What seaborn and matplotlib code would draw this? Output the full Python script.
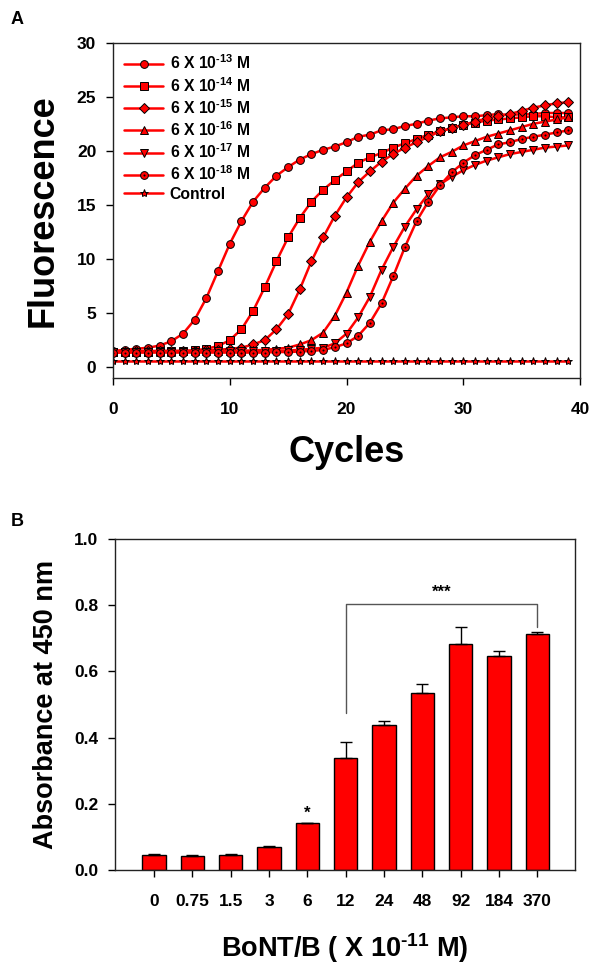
import matplotlib
matplotlib.use("Agg")
import matplotlib.pyplot as plt
from matplotlib.path import Path
import pandas as pd
import seaborn as sns

# ---- panel A: real-time fluorescence, one value per cycle ----
cycles = list(range(40))
s13 = [1.5, 1.6, 1.7, 1.8, 2.0, 2.4, 3.1, 4.4, 6.4, 8.9,
       11.4, 13.5, 15.3, 16.6, 17.7, 18.5, 19.2, 19.7, 20.1, 20.4,
       20.8, 21.3, 21.5, 21.9, 22.0, 22.3, 22.5, 22.8, 23.0, 23.1,
       23.2, 23.2, 23.3, 23.4, 23.3, 23.4, 23.4, 23.5, 23.5, 23.5]
s14 = [1.4, 1.4, 1.45, 1.45, 1.5, 1.5, 1.5, 1.55, 1.7, 1.95,
       2.5, 3.5, 5.2, 7.4, 9.8, 12.0, 13.8, 15.3, 16.4, 17.3,
       18.1, 18.9, 19.4, 19.8, 20.3, 20.7, 21.1, 21.5, 21.8, 22.1,
       22.4, 22.6, 22.8, 22.9, 23.0, 23.1, 23.2, 23.2, 23.1, 23.1]
s15 = [1.45, 1.45, 1.5, 1.5, 1.5, 1.5, 1.5, 1.5, 1.55, 1.6,
       1.7, 1.8, 2.1, 2.5, 3.5, 4.9, 7.2, 9.8, 12.0, 14.0,
       15.7, 17.1, 18.1, 19.0, 19.7, 20.3, 20.8, 21.3, 21.8, 22.1,
       22.4, 22.7, 23.0, 23.2, 23.4, 23.7, 24.0, 24.2, 24.4, 24.5]
s16 = [1.4, 1.4, 1.45, 1.45, 1.45, 1.45, 1.5, 1.5, 1.5, 1.5,
       1.5, 1.5, 1.55, 1.6, 1.7, 1.8, 2.1, 2.5, 3.2, 4.75,
       6.9, 9.4, 11.6, 13.5, 15.2, 16.5, 17.7, 18.6, 19.4, 19.9,
       20.5, 20.9, 21.3, 21.6, 21.9, 22.2, 22.5, 22.7, 22.9, 23.1]
s17 = [1.4, 1.4, 1.4, 1.4, 1.45, 1.45, 1.45, 1.45, 1.45, 1.5,
       1.5, 1.5, 1.5, 1.5, 1.5, 1.55, 1.6, 1.7, 1.8, 2.2,
       3.1, 4.6, 6.5, 9.0, 11.1, 13.0, 14.6, 16.0, 16.9, 17.6,
       18.2, 18.7, 19.1, 19.4, 19.7, 19.9, 20.1, 20.3, 20.4, 20.5]
s18 = [1.35, 1.35, 1.35, 1.35, 1.35, 1.35, 1.35, 1.35, 1.35, 1.35,
       1.35, 1.35, 1.35, 1.35, 1.4, 1.4, 1.45, 1.5, 1.6, 1.85,
       2.2, 2.9, 4.1, 5.9, 8.4, 11.1, 13.5, 15.3, 16.8, 18.0,
       18.9, 19.6, 20.1, 20.6, 20.8, 21.1, 21.3, 21.5, 21.7, 21.9]
control = [0.6, 0.6, 0.6, 0.6, 0.6, 0.6, 0.6, 0.6, 0.6, 0.6,
           0.6, 0.6, 0.6, 0.6, 0.6, 0.6, 0.6, 0.6, 0.6, 0.6,
           0.6, 0.6, 0.6, 0.6, 0.6, 0.6, 0.6, 0.6, 0.6, 0.6,
           0.6, 0.6, 0.6, 0.6, 0.6, 0.6, 0.6, 0.6, 0.6, 0.6]
series_labels = [r"6 X 10$^{\text{-13}}$ M", r"6 X 10$^{\text{-14}}$ M",
                 r"6 X 10$^{\text{-15}}$ M", r"6 X 10$^{\text{-16}}$ M",
                 r"6 X 10$^{\text{-17}}$ M", r"6 X 10$^{\text{-18}}$ M",
                 "Control"]

# ---- panel B: ELISA absorbance ----
doses = ["0", "0.75", "1.5", "3", "6", "12", "24", "48", "92", "184", "370"]
absorb = [0.046, 0.043, 0.045, 0.069, 0.141, 0.337, 0.439, 0.536, 0.682, 0.647, 0.712]
absorb_err = [0.002, 0.002, 0.002, 0.003, 0.002, 0.050, 0.011, 0.026, 0.053, 0.016, 0.008]

sns.set_style("ticks")
plt.rcParams['font.family'] = ['Liberation Sans', 'DejaVu Sans']
plt.rcParams['font.weight'] = 'bold'
plt.rcParams['mathtext.fontset'] = 'custom'
plt.rcParams['mathtext.rm'] = 'Liberation Sans:bold'
plt.rcParams['mathtext.bf'] = 'Liberation Sans:bold'
plt.rcParams['mathtext.default'] = 'bf'
for key in ['text.color', 'axes.labelcolor', 'xtick.color', 'ytick.color']:
    plt.rcParams[key] = 'black'

W, H = 590, 964
fig = plt.figure(figsize=(W / 100, H / 100), dpi=100)

# circle with a dot in the middle for the last dilution
dotted = Path.make_compound_path(Path.unit_circle(), Path.circle((0, 0), 0.14))
markers = ["o", "s", "D", "^", "v", dotted, "*"]
msizes = [5.6, 5.4, 5.0, 5.8, 5.8, 5.6, 6.0]

ax = fig.add_axes([113 / W, 1 - 378 / H, 467 / W, 335.3 / H])
for vals, lab, mk, ms in zip([s13, s14, s15, s16, s17, s18, control],
                             series_labels, markers, msizes):
    sns.lineplot(x=cycles, y=vals, ax=ax, color="red", lw=1.8, marker=mk,
                 markersize=ms, markerfacecolor="red", markeredgecolor="black",
                 markeredgewidth=0.7, label=lab)
ax.set_xlim(0, 40)
ax.set_ylim(-1, 30)
ax.set_xticks([0, 10, 20, 30, 40])
ax.set_yticks([0, 5, 10, 15, 20, 25, 30])
ax.tick_params(labelsize=12.5, length=5, width=1, pad=7)
ax.tick_params(axis="x", pad=12)
for sp in ax.spines.values():
    sp.set_visible(True)
    sp.set_linewidth(1)
    sp.set_color("#222222")
ax.set_xlabel("Cycles", fontsize=26, fontweight="bold", va="baseline")
ax.xaxis.set_label_coords(0.5, -(462 - 378) / 335.3)
ax.set_ylabel("Fluorescence", fontsize=26, fontweight="bold", va="baseline")
ax.yaxis.set_label_coords(-(113 - 53) / 467, 0.5)
leg = ax.legend(loc="upper left", frameon=False, fontsize=11.3, handlelength=2.5,
                handletextpad=0.4, labelspacing=0.22, borderaxespad=0.3,
                bbox_to_anchor=(0.0, 1.0))

# ---- panel B ----
ax2 = fig.add_axes([115 / W, 1 - 870 / H, 460 / W, 331 / H])
sns.barplot(x=doses, y=absorb, order=doses, ax=ax2, color="red", saturation=1,
            edgecolor="black", linewidth=1, width=0.61, errorbar=None)
ax2.errorbar(range(len(doses)), absorb, yerr=[[0] * len(doses), absorb_err],
             fmt="none", ecolor="black", elinewidth=1, capsize=4, capthick=1, zorder=3)
ax2.set_xlim(-1.02, 10.98)
ax2.set_ylim(0, 1.0)
ax2.set_yticks([0, 0.2, 0.4, 0.6, 0.8, 1.0])
ax2.set_yticklabels(["0.0", "0.2", "0.4", "0.6", "0.8", "1.0"])
ax2.tick_params(labelsize=12.5, length=5, width=1, pad=7)
ax2.tick_params(axis="x", pad=12)
for sp in ax2.spines.values():
    sp.set_visible(True)
    sp.set_linewidth(1)
    sp.set_color("#222222")
ax2.set_xlabel(r"BoNT/B ( X 10$^{\text{-11}}$ M)", fontsize=19.5, fontweight="bold",
               va="baseline")
ax2.xaxis.set_label_coords(0.5, -(957 - 870) / 331)
ax2.set_ylabel("Absorbance at 450 nm", fontsize=19.5, fontweight="bold", va="baseline")
ax2.yaxis.set_label_coords(-(115 - 53) / 460, 0.5)

# significance marks
ax2.plot([5, 5, 10, 10], [0.474, 0.804, 0.804, 0.735], color="#555555", lw=1)
ax2.text(7.5, 0.815, "***", ha="center", va="bottom", fontsize=12)
ax2.text(4, absorb[4] + 0.008, "*", ha="center", va="bottom", fontsize=12)

fig.text(11 / W, 1 - 20 / H, "A", fontsize=13, fontweight="bold", va="center")
fig.text(11 / W, 1 - 521 / H, "B", fontsize=13, fontweight="bold", va="center")

fig.savefig("out.png", dpi=100)
